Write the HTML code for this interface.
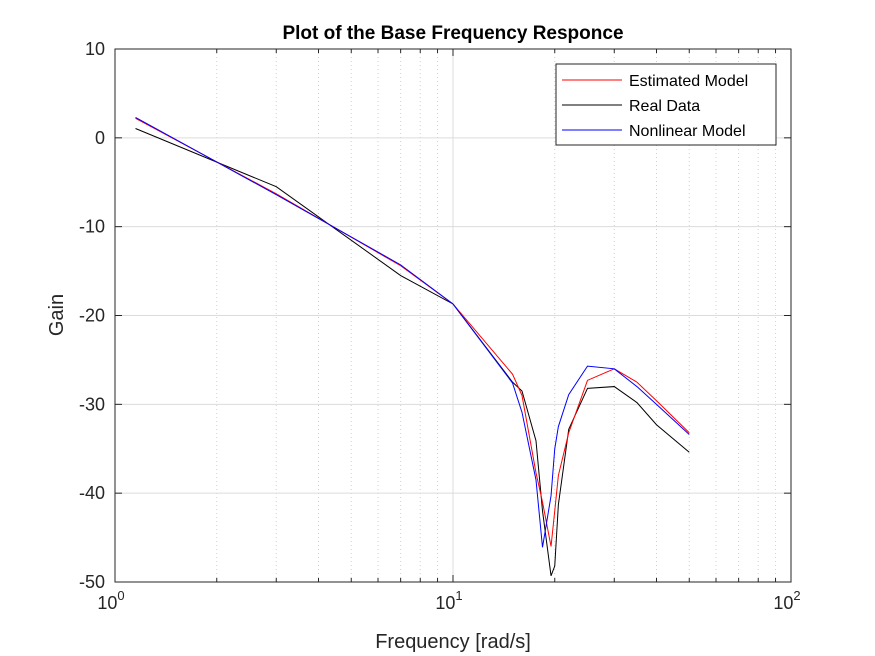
<!DOCTYPE html>
<html><head><meta charset="utf-8"><style>
body{margin:0;background:#fff;}
svg{display:block;font-family:"Liberation Sans",Arial,sans-serif;}
</style></head><body>
<svg id="chart" width="875" height="656" viewBox="0 0 875 656">
<rect width="875" height="656" fill="#fff"/>
<g id="grid"></g>
<g id="series"></g>
<g id="axes"></g>
<text x="453" y="39" text-anchor="middle" font-size="19" font-weight="bold" fill="#000">Plot of the Base Frequency Responce</text>
<text x="453" y="648" text-anchor="middle" font-size="20" fill="#262626">Frequency [rad/s]</text>
<text transform="translate(63,315) rotate(-90)" text-anchor="middle" font-size="20" fill="#262626">Gain</text>
<g>
<rect x="556" y="64" width="220" height="81" fill="#fff" stroke="#262626" stroke-width="1"/>
<g><line x1="562" y1="80" x2="622" y2="80" stroke="#f00"/><text x="629" y="86" font-size="16" fill="#000">Estimated Model</text></g>
<g><line x1="562" y1="105" x2="622" y2="105" stroke="#000"/><text x="629" y="111" font-size="16" fill="#000">Real Data</text></g>
<g><line x1="562" y1="130" x2="622" y2="130" stroke="#00f"/><text x="629" y="136" font-size="16" fill="#000">Nonlinear Model</text></g>
</g>
</svg>
<script>
const freqs=[1.15,3,7,10,15,16,17.6,18.4,19.5,20,20.5,22,25,30,35,40,50];
const estimated=[2.2,-6.3,-14.4,-18.7,-26.6,-29,-37.7,-41,-46,-42,-38,-33.2,-27.3,-26,-27.5,-29.6,-33.2];
const nonlinear=[2.3,-6.4,-14.3,-18.7,-27.6,-30.9,-38.5,-46.1,-40.3,-35,-32.5,-28.9,-25.7,-26,-28,-30,-33.4];
const real=[1.05,-5.5,-15.5,-18.7,-27.5,-28.5,-34.1,-42,-49.3,-48.2,-41.3,-32.8,-28.2,-28,-29.8,-32.3,-35.4];
const yTicks=[10,0,-10,-20,-30,-40,-50];
const xDecades=[0,1,2];
const L=115,R=791,T=49,B=582;
const xs=f=>L+(Math.log10(f)-0)/2*(R-L);
const ys=v=>T+(10-v)/60*(B-T);
const NS='http://www.w3.org/2000/svg';
function mk(tag,attrs,parent){const e=document.createElementNS(NS,tag);for(const k in attrs)e.setAttribute(k,attrs[k]);parent.appendChild(e);return e;}
const grid=document.getElementById('grid'),axes=document.getElementById('axes'),ser=document.getElementById('series');
for(let d=0;d<2;d++){for(let m=2;m<=9;m++){const x=xs(m*Math.pow(10,d));
const l=mk('line',{x1:x,x2:x,y1:T,y2:B,stroke:'#d0d0d0','stroke-dasharray':'1,3'},grid);


mk('line',{x1:x,x2:x,y1:B,y2:B-4,stroke:'#262626'},axes);mk('line',{x1:x,x2:x,y1:T,y2:T+4,stroke:'#262626'},axes);}}
xDecades.forEach(d=>{const x=xs(Math.pow(10,d));
const l=mk('line',{x1:x,x2:x,y1:T,y2:B,stroke:'#dcdcdc'},grid);


mk('line',{x1:x,x2:x,y1:B,y2:B-7,stroke:'#262626'},axes);mk('line',{x1:x,x2:x,y1:T,y2:T+7,stroke:'#262626'},axes);
const t=mk('text',{x:x-4,y:B+27,'text-anchor':'middle','font-size':'18',fill:'#262626'},axes);


t.textContent='10';const s=mk('tspan',{dy:'-9','font-size':'13'},t);s.textContent=d;});
yTicks.forEach(v=>{const y=ys(v);
const l=mk('line',{x1:L,x2:R,y1:y,y2:y,stroke:'#dcdcdc'},grid);


mk('line',{x1:L,x2:L+7,y1:y,y2:y,stroke:'#262626'},axes);mk('line',{x1:R,x2:R-7,y1:y,y2:y,stroke:'#262626'},axes);
const t=mk('text',{x:L-10,y:y+6,'text-anchor':'end','font-size':'18',fill:'#262626'},axes);


t.textContent=v;});
const box=mk('rect',{x:L,y:T,width:R-L,height:B-T,fill:'none',stroke:'#262626'},axes);


function line(vals,color,name){const p=mk('polyline',{points:vals.map((v,i)=>xs(freqs[i])+','+ys(v)).join(' '),fill:'none',stroke:color,'stroke-width':'1'},ser);

}
line(real,'#000','real-data-line');
line(estimated,'#f00','estimated-model-line');
line(nonlinear,'#00f','nonlinear-model-line');
</script>
</body></html>
